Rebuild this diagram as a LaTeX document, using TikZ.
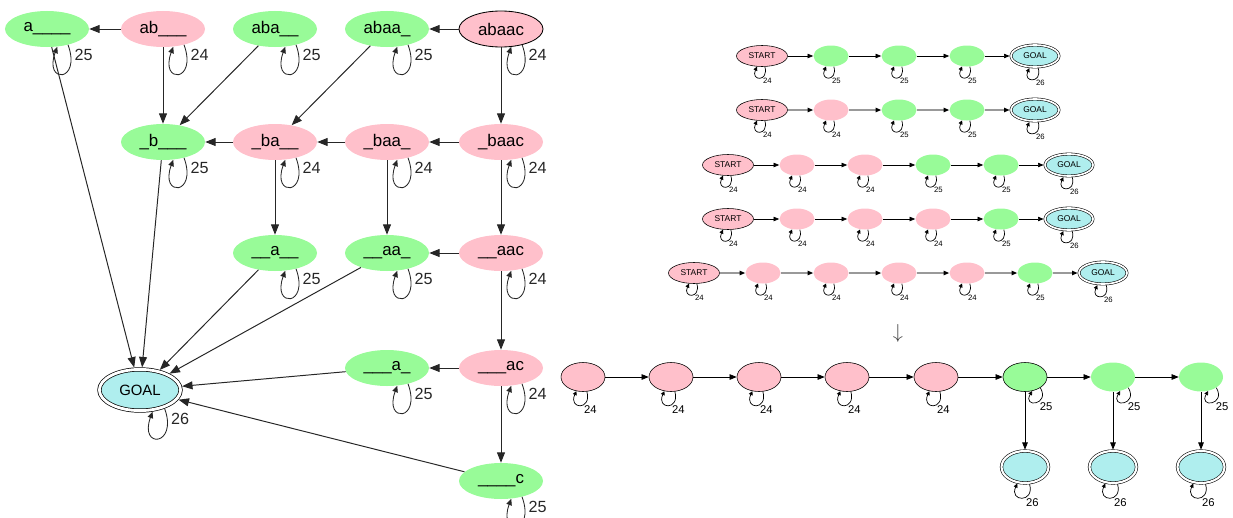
\documentclass[tikz,border=0pt]{standalone}
\usepackage{fontspec}
\setmainfont{Liberation Sans}
\usetikzlibrary{arrows.meta,shapes.geometric}

\definecolor{stgreen}{HTML}{98FB98}
\definecolor{stpink}{HTML}{FFC0CB}
\definecolor{stcyan}{HTML}{AFEEEE}

\tikzset{
  % big graph
  state/.style={ellipse, inner sep=0pt, minimum width=21mm, minimum height=9mm,
    font=\fontsize{12}{14}\selectfont},
  gstate/.style={state, fill=stgreen},
  pstate/.style={state, fill=stpink},
  goal/.style={ellipse, draw, fill=stcyan, double, double distance=2pt, line width=0.5pt,
    outer sep=1.5pt, inner sep=0pt, minimum width=20.3mm, minimum height=10.3mm,
    font=\fontsize{10.6}{13}\selectfont},
  arr/.style={-{Triangle[length=2.6mm,width=2mm]}, line width=0.7pt, black!85},
  looparr/.style={-{Triangle[length=1.6mm,width=1.4mm]}, line width=0.6pt, black!85},
  loopR/.style={to path={(\tikztostart.-37) .. controls +(-70:10mm) and +(-110:10mm)
    .. (\tikztotarget.-60) \tikztonodes}},
  num/.style={pos=0.1, anchor=west, xshift=0.5mm, inner sep=1pt,
    font=\fontsize{11.5}{13}\selectfont},
  % small chains
  sstate/.style={ellipse, inner sep=0pt, minimum width=8.75mm, minimum height=5.25mm},
  sg/.style={sstate, fill=stgreen},
  sp/.style={sstate, fill=stpink},
  start/.style={sstate, draw, fill=stpink, line width=0.4pt, minimum width=12.75mm,
    font=\fontsize{6}{7}\selectfont},
  sgoal/.style={ellipse, draw, fill=stcyan, double, double distance=1.2pt, line width=0.4pt,
    outer sep=1pt, inner sep=0pt, minimum width=12mm, minimum height=5.5mm,
    font=\fontsize{6}{7}\selectfont},
  sarr/.style={-{Triangle[length=1.4mm,width=1.1mm,black]}, line width=0.5pt},
  garr/.style={sarr, line width=0.9pt, black!40},
  sloop/.style={-{Triangle[length=1mm,width=1mm]}, line width=0.5pt},
  loopS/.style={to path={(\tikztostart.-75) .. controls +(-75:4mm) and +(-115:4mm)
    .. (\tikztotarget.-115) \tikztonodes}},
  snum/.style={pos=0.4, anchor=north west, inner sep=0.5pt, font=\fontsize{5.5}{6}\selectfont},
  % merged chain
  bstate/.style={ellipse, inner sep=0pt, minimum width=11mm, minimum height=7.25mm, line width=0.4pt},
  bp/.style={bstate, draw, fill=stpink},
  bg/.style={bstate, fill=stgreen},
  bgoal/.style={ellipse, draw, fill=stcyan, double, double distance=1.5pt, line width=0.4pt,
    outer sep=1pt, inner sep=0pt, minimum width=11.75mm, minimum height=8mm},
  barr/.style={-{Triangle[length=1.8mm,width=1.4mm]}, line width=0.5pt},
  loopB/.style={to path={(\tikztostart.-75) .. controls +(-75:5mm) and +(-115:5mm)
    .. (\tikztotarget.-115) \tikztonodes}},
  loopBG/.style={to path={(\tikztostart.-35) .. controls +(-60:5mm) and +(-120:5mm)
    .. (\tikztotarget.-63) \tikztonodes}},
  bnum/.style={pos=0.4, anchor=north west, inner sep=0.5pt, font=\fontsize{8}{9}\selectfont}
}

\begin{document}
\begin{tikzpicture}[x=0.25mm,y=-0.25mm]
  \useasboundingbox (0,0) rectangle (1233,517);

  % left: states of abaac
  \node[gstate] (A) at (47,29) {a\_\_\_\_};
  \node[pstate] (AB) at (163,29) {ab\_\_\_};
  \node[gstate] (ABA) at (275,29) {aba\_\_};
  \node[gstate] (ABAA) at (387,29) {abaa\_};
  \node[pstate, draw, line width=0.6pt] (ABAAC) at (501,29) {abaac};

  \node[gstate] (B) at (163,142) {\_b\_\_\_};
  \node[pstate] (BA) at (275,142) {\_ba\_\_};
  \node[pstate] (BAA) at (387,142) {\_baa\_};
  \node[pstate] (BAAC) at (501,142) {\_baac};

  \node[gstate] (A3) at (275,253) {\_\_a\_\_};
  \node[gstate] (AA) at (387,253) {\_\_aa\_};
  \node[pstate] (AAC) at (501,253) {\_\_aac};

  \node[gstate] (A4) at (387,368) {\_\_\_a\_};
  \node[pstate] (AC) at (501,368) {\_\_\_ac};

  \node[gstate] (C) at (501,481) {\_\_\_\_c};

  \node[goal] (GOAL) at (140,390) {GOAL};

  \draw[arr] (AB) -- (A);
  \draw[arr] (ABAAC) -- (ABAA);
  \draw[arr] (AB) -- (B);
  \draw[arr] (ABA) -- (B);
  \draw[arr] (ABAA) -- (BA);
  \draw[arr] (ABAAC) -- (BAAC);
  \draw[arr] (BA) -- (B);
  \draw[arr] (BAA) -- (BA);
  \draw[arr] (BAAC) -- (BAA);
  \draw[arr] (BA) -- (A3);
  \draw[arr] (BAA) -- (AA);
  \draw[arr] (BAAC) -- (AAC);
  \draw[arr] (AAC) -- (AA);
  \draw[arr] (AAC) -- (AC);
  \draw[arr] (AC) -- (A4);
  \draw[arr] (AC) -- (C);
  \draw[arr] (A) -- (GOAL);
  \draw[arr] (B) -- (GOAL);
  \draw[arr] (A3) -- (GOAL);
  \draw[arr] (AA) -- (GOAL);
  \draw[arr] (A4) -- (GOAL);
  \draw[arr] (C) -- (GOAL);

  \draw[looparr] (A) to[loopR] node[num] {25} (A);
  \draw[looparr] (AB) to[loopR] node[num] {24} (AB);
  \draw[looparr] (ABA) to[loopR] node[num] {25} (ABA);
  \draw[looparr] (ABAA) to[loopR] node[num] {25} (ABAA);
  \draw[looparr] (ABAAC) to[loopR] node[num] {24} (ABAAC);
  \draw[looparr] (B) to[loopR] node[num] {25} (B);
  \draw[looparr] (BA) to[loopR] node[num] {24} (BA);
  \draw[looparr] (BAA) to[loopR] node[num] {24} (BAA);
  \draw[looparr] (BAAC) to[loopR] node[num] {24} (BAAC);
  \draw[looparr] (A3) to[loopR] node[num] {25} (A3);
  \draw[looparr] (AA) to[loopR] node[num] {25} (AA);
  \draw[looparr] (AAC) to[loopR] node[num] {24} (AAC);
  \draw[looparr] (A4) to[loopR] node[num] {25} (A4);
  \draw[looparr] (AC) to[loopR] node[num] {24} (AC);
  \draw[looparr] (C) to[loopR] node[num] {25} (C);
  \draw[looparr] (GOAL) to[loopR] node[num] {26} (GOAL);

  % right: one chain per position of the last letter
  \node[start] (R1s) at (762,56) {START};
  \node[sg] (R1a) at (831,56) {};
  \node[sg] (R1b) at (899,56) {};
  \node[sg] (R1c) at (967,56) {};
  \node[sgoal] (R1g) at (1035,56) {GOAL};

  \node[start] (R2s) at (762,110) {START};
  \node[sp] (R2a) at (831,110) {};
  \node[sg] (R2b) at (899,110) {};
  \node[sg] (R2c) at (967,110) {};
  \node[sgoal] (R2g) at (1035,110) {GOAL};

  \node[start] (R3s) at (728,165) {START};
  \node[sp] (R3a) at (797,165) {};
  \node[sp] (R3b) at (865,165) {};
  \node[sg] (R3c) at (933,165) {};
  \node[sg] (R3d) at (1001,165) {};
  \node[sgoal] (R3g) at (1069,165) {GOAL};

  \node[start] (R4s) at (728,219) {START};
  \node[sp] (R4a) at (797,219) {};
  \node[sp] (R4b) at (865,219) {};
  \node[sp] (R4c) at (933,219) {};
  \node[sg] (R4d) at (1001,219) {};
  \node[sgoal] (R4g) at (1069,219) {GOAL};

  \node[start] (R5s) at (694,273) {START};
  \node[sp] (R5a) at (763,273) {};
  \node[sp] (R5b) at (831,273) {};
  \node[sp] (R5c) at (899,273) {};
  \node[sp] (R5d) at (967,273) {};
  \node[sg] (R5e) at (1035,273) {};
  \node[sgoal] (R5g) at (1103,273) {GOAL};

  \draw[sarr] (R1s) -- (R1a); \draw[sarr] (R1a) -- (R1b);
  \draw[sarr] (R1b) -- (R1c); \draw[sarr] (R1c) -- (R1g);
  \draw[garr] (R2s) -- (R2a); \draw[garr] (R2a) -- (R2b);
  \draw[garr] (R2b) -- (R2c); \draw[garr] (R2c) -- (R2g);
  \draw[sarr] (R3s) -- (R3a); \draw[sarr] (R3a) -- (R3b); \draw[sarr] (R3b) -- (R3c);
  \draw[sarr] (R3c) -- (R3d); \draw[sarr] (R3d) -- (R3g);
  \draw[sarr] (R4s) -- (R4a); \draw[sarr] (R4a) -- (R4b); \draw[sarr] (R4b) -- (R4c);
  \draw[sarr] (R4c) -- (R4d); \draw[sarr] (R4d) -- (R4g);
  \draw[garr] (R5s) -- (R5a); \draw[garr] (R5a) -- (R5b); \draw[garr] (R5b) -- (R5c);
  \draw[garr] (R5c) -- (R5d); \draw[garr] (R5d) -- (R5e); \draw[garr] (R5e) -- (R5g);

  \draw[sloop] (R1s) to[loopS] node[snum] {24} (R1s);
  \draw[sloop] (R1a) to[loopS] node[snum] {25} (R1a);
  \draw[sloop] (R1b) to[loopS] node[snum] {25} (R1b);
  \draw[sloop] (R1c) to[loopS] node[snum] {25} (R1c);
  \draw[sloop] (R1g) to[loopS] node[snum] {26} (R1g);
  \draw[sloop] (R2s) to[loopS] node[snum] {24} (R2s);
  \draw[sloop] (R2a) to[loopS] node[snum] {24} (R2a);
  \draw[sloop] (R2b) to[loopS] node[snum] {25} (R2b);
  \draw[sloop] (R2c) to[loopS] node[snum] {25} (R2c);
  \draw[sloop] (R2g) to[loopS] node[snum] {26} (R2g);
  \draw[sloop] (R3s) to[loopS] node[snum] {24} (R3s);
  \draw[sloop] (R3a) to[loopS] node[snum] {24} (R3a);
  \draw[sloop] (R3b) to[loopS] node[snum] {24} (R3b);
  \draw[sloop] (R3c) to[loopS] node[snum] {25} (R3c);
  \draw[sloop] (R3d) to[loopS] node[snum] {25} (R3d);
  \draw[sloop] (R3g) to[loopS] node[snum] {26} (R3g);
  \draw[sloop] (R4s) to[loopS] node[snum] {24} (R4s);
  \draw[sloop] (R4a) to[loopS] node[snum] {24} (R4a);
  \draw[sloop] (R4b) to[loopS] node[snum] {24} (R4b);
  \draw[sloop] (R4c) to[loopS] node[snum] {24} (R4c);
  \draw[sloop] (R4d) to[loopS] node[snum] {25} (R4d);
  \draw[sloop] (R4g) to[loopS] node[snum] {26} (R4g);
  \draw[sloop] (R5s) to[loopS] node[snum] {24} (R5s);
  \draw[sloop] (R5a) to[loopS] node[snum] {24} (R5a);
  \draw[sloop] (R5b) to[loopS] node[snum] {24} (R5b);
  \draw[sloop] (R5c) to[loopS] node[snum] {24} (R5c);
  \draw[sloop] (R5d) to[loopS] node[snum] {24} (R5d);
  \draw[sloop] (R5e) to[loopS] node[snum] {25} (R5e);
  \draw[sloop] (R5g) to[loopS] node[snum] {26} (R5g);

  \node[font=\fontsize{15}{17}\selectfont, text=black!75] (DOWN) at (898,333) {$\downarrow$};

  % merged chain
  \node[bp] (P1) at (583,377) {};
  \node[bp] (P2) at (671,377) {};
  \node[bp] (P3) at (759,377) {};
  \node[bp] (P4) at (847,377) {};
  \node[bp] (P5) at (936,377) {};
  \node[bg, draw] (G1) at (1025,377) {};
  \node[bg] (G2) at (1113,377) {};
  \node[bg] (G3) at (1201,377) {};
  \node[bgoal] (Q1) at (1025,467) {};
  \node[bgoal] (Q2) at (1113,467) {};
  \node[bgoal] (Q3) at (1201,467) {};

  \draw[barr] (P1) -- (P2); \draw[barr] (P2) -- (P3); \draw[barr] (P3) -- (P4);
  \draw[barr] (P4) -- (P5); \draw[barr] (P5) -- (G1); \draw[barr] (G1) -- (G2);
  \draw[barr] (G2) -- (G3);
  \draw[barr] (G1) -- (Q1); \draw[barr] (G2) -- (Q2); \draw[barr] (G3) -- (Q3);

  \draw[sloop] (P1) to[loopB] node[bnum] {24} (P1);
  \draw[sloop] (P2) to[loopB] node[bnum] {24} (P2);
  \draw[sloop] (P3) to[loopB] node[bnum] {24} (P3);
  \draw[sloop] (P4) to[loopB] node[bnum] {24} (P4);
  \draw[sloop] (P5) to[loopB] node[bnum] {24} (P5);
  \draw[sloop] (G1) to[loopBG] node[bnum] {25} (G1);
  \draw[sloop] (G2) to[loopBG] node[bnum] {25} (G2);
  \draw[sloop] (G3) to[loopBG] node[bnum] {25} (G3);
  \draw[sloop] (Q1) to[loopB] node[bnum] {26} (Q1);
  \draw[sloop] (Q2) to[loopB] node[bnum] {26} (Q2);
  \draw[sloop] (Q3) to[loopB] node[bnum] {26} (Q3);
\end{tikzpicture}
\end{document}
